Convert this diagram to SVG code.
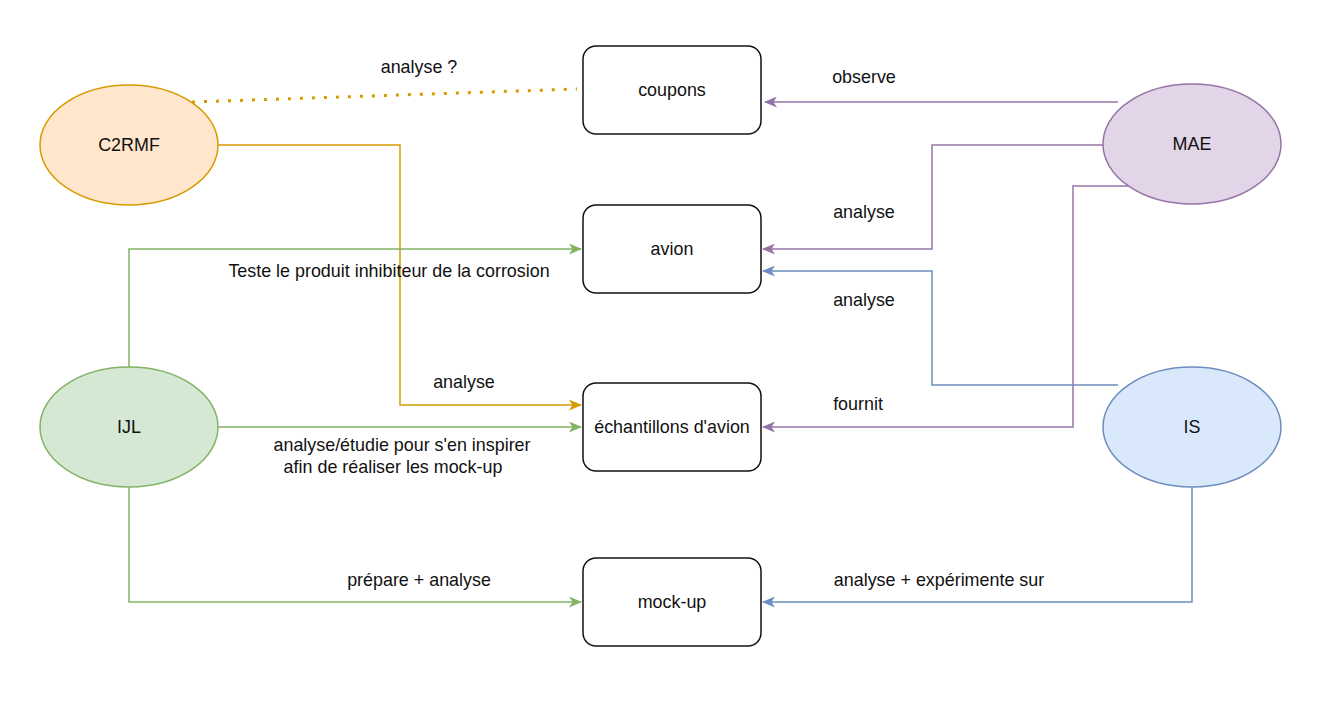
<svg xmlns="http://www.w3.org/2000/svg" width="1322" height="721" viewBox="0 0 1322 721">
<style>
text{font-family:"Liberation Sans",Arial,sans-serif;font-size:17.9px;fill:#111;text-anchor:middle;dominant-baseline:central}
.box{fill:#fff;stroke:#111;stroke-width:1.5}
.c{fill:none;stroke-width:1.5}
.dot{stroke-width:3;stroke-dasharray:3 9}
.or{stroke:#d79b00}.gr{stroke:#82b366}.pu{stroke:#9673a6}.bl{stroke:#6c8ebf}
</style>
<defs>
<marker id="aor" viewBox="0 0 13 11" refX="12" refY="5.5" markerWidth="13" markerHeight="11" markerUnits="userSpaceOnUse" orient="auto"><path d="M0,0 L13,5.5 L0,11 L3.5,5.5 Z" fill="#d79b00"/></marker>
<marker id="agr" viewBox="0 0 13 11" refX="12" refY="5.5" markerWidth="13" markerHeight="11" markerUnits="userSpaceOnUse" orient="auto"><path d="M0,0 L13,5.5 L0,11 L3.5,5.5 Z" fill="#82b366"/></marker>
<marker id="apu" viewBox="0 0 13 11" refX="12" refY="5.5" markerWidth="13" markerHeight="11" markerUnits="userSpaceOnUse" orient="auto"><path d="M0,0 L13,5.5 L0,11 L3.5,5.5 Z" fill="#9673a6"/></marker>
<marker id="abl" viewBox="0 0 13 11" refX="12" refY="5.5" markerWidth="13" markerHeight="11" markerUnits="userSpaceOnUse" orient="auto"><path d="M0,0 L13,5.5 L0,11 L3.5,5.5 Z" fill="#6c8ebf"/></marker>
</defs>
<rect width="1322" height="721" fill="#fff"/>
<g id="connectors">
<path class="c or dot" d="M192,102 L577,89"/>
<text x="419" y="67">analyse ?</text>
<path class="c or" d="M218,145 H400 V405 H581" marker-end="url(#aor)"/>
<text x="464" y="382">analyse</text>
<path class="c gr" d="M129,367 V249 H581" marker-end="url(#agr)"/>
<text x="389" y="271">Teste le produit inhibiteur de la corrosion</text>
<path class="c gr" d="M218,427 H581" marker-end="url(#agr)"/>
<text x="402" y="445">analyse/étudie pour s'en inspirer</text>
<text x="393" y="467">afin de réaliser les mock-up</text>
<path class="c gr" d="M129,487 V602 H581" marker-end="url(#agr)"/>
<text x="419" y="580">prépare + analyse</text>
<path class="c pu" d="M1118,102 H765" marker-end="url(#apu)"/>
<text x="864" y="77">observe</text>
<path class="c pu" d="M1103,145 H932 V249 H763" marker-end="url(#apu)"/>
<text x="864" y="212">analyse</text>
<path class="c pu" d="M1128,186 H1073 V427 H763" marker-end="url(#apu)"/>
<text x="858" y="404">fournit</text>
<path class="c bl" d="M1118,385 H932 V271 H763" marker-end="url(#abl)"/>
<text x="864" y="300">analyse</text>
<path class="c bl" d="M1192,487 V602 H763" marker-end="url(#abl)"/>
<text x="939" y="580">analyse + expérimente sur</text>
</g>
<g id="coupons"><rect class="box" x="583" y="46" width="178" height="88" rx="13"/><text x="672" y="90">coupons</text></g>
<g id="avion"><rect class="box" x="583" y="205" width="178" height="88" rx="13"/><text x="672" y="249">avion</text></g>
<g id="echantillons"><rect class="box" x="583" y="383" width="178" height="88" rx="13"/><text x="672" y="427">échantillons d'avion</text></g>
<g id="mockup"><rect class="box" x="583" y="558" width="178" height="88" rx="13"/><text x="672" y="602">mock-up</text></g>
<g id="C2RMF"><ellipse cx="129" cy="145" rx="89" ry="60" fill="#ffe6cc" stroke="#d79b00" stroke-width="1.5"/><text x="129" y="145">C2RMF</text></g>
<g id="IJL"><ellipse cx="129" cy="427" rx="89" ry="60" fill="#d5e8d4" stroke="#82b366" stroke-width="1.5"/><text x="129" y="427">IJL</text></g>
<g id="MAE"><ellipse cx="1192" cy="144" rx="89" ry="60" fill="#e1d5e7" stroke="#9673a6" stroke-width="1.5"/><text x="1192" y="144">MAE</text></g>
<g id="IS"><ellipse cx="1192" cy="427" rx="89" ry="60" fill="#dae8fc" stroke="#6c8ebf" stroke-width="1.5"/><text x="1192" y="427">IS</text></g>
</svg>
